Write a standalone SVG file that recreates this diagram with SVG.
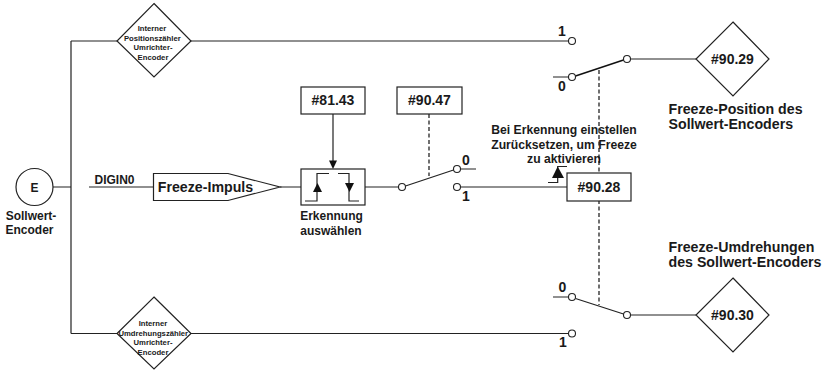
<svg xmlns="http://www.w3.org/2000/svg" width="828" height="370" viewBox="0 0 828 370">
<style>
text{font-family:"Liberation Sans",Arial,sans-serif;font-weight:bold;fill:#1a1a1a;text-anchor:middle}
.l{text-anchor:start}
.s{font-size:7.7px}
.m{font-size:12px}
.k{font-size:12.200px}
.b{font-size:14px}
.n{font-size:14.200px}
.shape{fill:#fff;stroke:#222;stroke-width:1.2}
.w{fill:none;stroke:#222;stroke-width:1.2}
.d{fill:none;stroke:#111;stroke-width:1.2;stroke-dasharray:4 2.5}
.t{fill:#111}
.c{fill:#fff;stroke:#222;stroke-width:1.1}
</style>
<g id="connectors">
<path class="w" d="M53 187H71M71 41V333.500M71 41H117M191 41H569M71 333.500H117M191 333.500H568"/>
<path class="w" d="M89 187H153.500M280 187H301M365 187H398.500M461 187H567M333 114V161"/>
<path class="t" d="M333 169L329 160.500H337Z"/>
<path class="w" d="M405.500 186L453.500 170M460.500 169H476"/>
<path class="w" d="M553 77H568.500M630.500 59H696"/>
<path class="w" style="stroke-width:1.500;stroke:#111" d="M575.500 76L623.500 60"/>
<path class="w" d="M553 297H568.500M575.500 298.500L623.500 314M630.500 315H696"/>
<path class="d" d="M429 114V176M599 70V305"/>
<path class="w" d="M548 182.500H557.700V166.500H567"/>
<path class="t" d="M557.700 166.500L552 178H564Z"/>
</g>
<g id="node-e"><circle class="shape" cx="34.500" cy="187" r="18.500"/><text class="m" x="34.500" y="191.500">E</text>
<text class="m"><tspan x="31" y="219.500">Sollwert-</tspan><tspan x="29.500" y="233.500">Encoder</tspan></text></g>
<g id="node-pos-counter"><path class="shape" d="M154 3.500L191 41L154 77L117 41Z"/>
<text class="s"><tspan x="152" y="31">Interner</tspan><tspan x="152.300" y="40.500">Positionszähler</tspan><tspan x="153" y="50">Umrichter-</tspan><tspan x="153" y="60">Encoder</tspan></text></g>
<g id="node-rev-counter"><path class="shape" d="M154 297L191 333.500L154 369L117 333.500Z"/>
<text class="s"><tspan x="153" y="326">Interner</tspan><tspan x="153.300" y="335.500">Umdrehungszähler</tspan><tspan x="153" y="345">Umrichter-</tspan><tspan x="153" y="355">Encoder</tspan></text></g>
<g id="node-digin"><text class="m" x="114.500" y="183.500">DIGIN0</text></g>
<g id="node-freeze-impuls"><path class="shape" d="M153.500 173.500H228L280 187L228 200.500H153.500Z"/><text class="n" x="205.500" y="192">Freeze-Impuls</text></g>
<g id="node-8143"><rect class="shape" x="301" y="87" width="64" height="27"/><text class="b" x="333" y="105">#81.43</text></g>
<g id="node-9047"><rect class="shape" x="397" y="87" width="65" height="27"/><text class="b" x="429.500" y="105">#90.47</text></g>
<g id="node-detect"><rect class="shape" x="301" y="169" width="64" height="36"/>
<path class="w" d="M305 201H317V173.500H329M338 173.500H349V201H359"/>
<path class="t" d="M317.500 183L313 192H322Z"/><path class="t" d="M349.500 192L345 183H354Z"/>
<text class="m"><tspan x="331.500" y="220">Erkennung</tspan><tspan x="331" y="235">auswählen</tspan></text></g>
<g id="node-switch-mid"><circle class="c" cx="402" cy="187" r="3.500"/><circle class="c" cx="457" cy="169" r="3.500"/><circle class="c" cx="457" cy="187" r="3.500"/>
<text class="b" x="466" y="164.500">0</text><text class="b" x="466" y="201">1</text></g>
<g id="node-9028"><rect class="shape" x="567" y="173" width="64" height="28"/><text class="b" x="599" y="192">#90.28</text>
<text class="k"><tspan x="564" y="134">Bei Erkennung einstellen</tspan><tspan x="564" y="149">Zurücksetzen, um Freeze</tspan><tspan x="564" y="163.300">zu aktivieren</tspan></text></g>
<g id="node-switch-top"><circle class="c" cx="572" cy="41" r="3.500"/><circle class="c" cx="572" cy="77" r="3.500"/><circle class="c" cx="627" cy="59" r="3.500"/>
<text class="b" x="562" y="36">1</text><text class="b" x="562" y="91">0</text></g>
<g id="node-9029"><path class="shape" d="M733 22L769 59L733 96L696 59Z"/><text class="b" x="732.500" y="63.500">#90.29</text>
<text class="n"><tspan class="l" x="668.500" y="113.500">Freeze-Position des</tspan><tspan class="l" x="668.500" y="128.500">Sollwert-Encoders</tspan></text></g>
<g id="node-switch-bottom"><circle class="c" cx="572" cy="297" r="3.500"/><circle class="c" cx="572" cy="333.500" r="3.500"/><circle class="c" cx="627" cy="315" r="3.500"/>
<text class="b" x="562.500" y="292">0</text><text class="b" x="563" y="347">1</text></g>
<g id="node-9030"><path class="shape" d="M733 278L769 315L733 352L696 315Z"/><text class="b" x="732.500" y="320">#90.30</text>
<text class="n"><tspan class="l" x="668.500" y="251.500">Freeze-Umdrehungen</tspan><tspan class="l" x="668.500" y="266.500">des Sollwert-Encoders</tspan></text></g>
</svg>
